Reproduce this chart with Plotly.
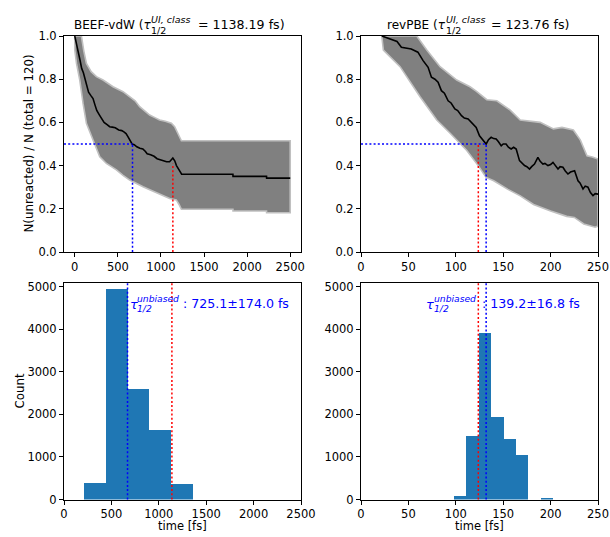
import plotly.graph_objects as go

W, H = 610, 537

# ---------------- data ----------------
# BEEF-vdW: fraction of unreacted molecules (black reference curve)
beef_t = [0, 20, 38, 60, 80, 100, 120, 140, 160, 185, 212, 235, 255, 285, 310, 340, 375, 405,
          435, 470, 510, 545, 570, 595, 615, 640, 665, 690, 720, 755, 790, 820, 840, 880, 920,
          955, 990, 1030, 1065, 1100, 1120, 1138, 1160, 1180, 1210, 1240, 1835, 1836, 2225,
          2226, 2500]
beef_frac = [1.0, 0.97, 0.93, 0.89, 0.85, 0.83, 0.80, 0.77, 0.74, 0.725, 0.71, 0.68, 0.655,
             0.635, 0.62, 0.60, 0.59, 0.58, 0.578, 0.575, 0.565, 0.562, 0.556, 0.548, 0.535,
             0.52, 0.50, 0.497, 0.487, 0.48, 0.477, 0.465, 0.455, 0.45, 0.443, 0.432, 0.428,
             0.42, 0.418, 0.418, 0.425, 0.435, 0.422, 0.40, 0.38, 0.36, 0.36, 0.35, 0.35,
             0.342, 0.342]
# envelope of the bootstrap curves (grey band)
beef_up_t = [0, 77, 105, 135, 190, 251, 328, 444, 560, 637, 700, 753, 810, 869, 930, 985,
             1050, 1121, 1159, 1190, 1217, 1237, 1840, 2230, 2500]
beef_up_frac = [1.0, 1.0, 0.93, 0.873, 0.835, 0.812, 0.796, 0.765, 0.742, 0.719, 0.70, 0.673,
                0.655, 0.634, 0.622, 0.611, 0.605, 0.596, 0.58, 0.556, 0.534, 0.515, 0.515,
                0.515, 0.515]
beef_lo_t = [0, 0, 20, 58, 96, 135, 175, 212, 250, 290, 367, 483, 560, 637, 720, 792, 870, 947,
             1030, 1101, 1178, 1210, 1237, 1835, 1836, 2225, 2226, 2500]
beef_lo_frac = [1.0, 0.935, 0.873, 0.796, 0.688, 0.596, 0.555, 0.519, 0.48, 0.441, 0.41, 0.38,
                0.355, 0.333, 0.318, 0.302, 0.288, 0.272, 0.26, 0.248, 0.241, 0.22, 0.198,
                0.198, 0.19, 0.19, 0.182, 0.182]
beef_tau_class = 1138.19
beef_tau_blue = 670
beef_red_top = 0.41

# revPBE
rev_t = [22, 32, 38, 42.6, 48, 53, 60, 65.5, 70.8, 74.3, 78, 81.3, 84.8, 88, 91.9, 95, 99, 102,
         106, 109, 113, 118.3, 121.5, 125, 128, 132, 134.5, 137.3, 140, 142.6, 145, 147.9, 150,
         153, 155.5, 158.4, 161, 163.7, 167.2, 170, 172.5, 175, 177.8, 180, 183, 186.6, 189,
         191.9, 194, 197.2, 200, 202.5, 205, 207.8, 210, 213, 215.5, 218.3, 221, 225.3, 228.9,
         231, 234.2, 236.5, 239.4, 242, 244.7, 247, 250]
rev_frac = [1.0, 0.985, 0.975, 0.948, 0.945, 0.94, 0.925, 0.886, 0.855, 0.809, 0.80, 0.786,
            0.747, 0.735, 0.70, 0.69, 0.662, 0.655, 0.631, 0.62, 0.616, 0.593, 0.577, 0.538,
            0.52, 0.50, 0.52, 0.531, 0.525, 0.523, 0.51, 0.492, 0.50, 0.50, 0.485, 0.477,
            0.485, 0.477, 0.423, 0.41, 0.40, 0.395, 0.384, 0.395, 0.407, 0.438, 0.42, 0.407,
            0.41, 0.40, 0.405, 0.415, 0.40, 0.384, 0.395, 0.392, 0.375, 0.361, 0.37, 0.376,
            0.33, 0.32, 0.292, 0.305, 0.30, 0.275, 0.261, 0.27, 0.268]
rev_up_t = [22, 58.8, 69.4, 83.4, 101, 115, 121.5, 132.7, 143.3, 157.4, 168, 189, 203, 212,
            224, 231.3, 238.4, 244, 250]
rev_up_frac = [1.0, 1.0, 0.935, 0.858, 0.796, 0.765, 0.745, 0.705, 0.70, 0.657, 0.611, 0.60,
               0.57, 0.577, 0.565, 0.519, 0.445, 0.44, 0.43]
rev_lo_t = [21.9, 23.6, 41.2, 62.3, 79.9, 94, 111.6, 123.6, 132, 140, 155, 168, 182, 191, 200,
            217, 225, 235, 247, 250]
rev_lo_frac = [1.0, 0.935, 0.858, 0.719, 0.611, 0.55, 0.47, 0.40, 0.345, 0.33, 0.29, 0.26,
               0.22, 0.205, 0.19, 0.165, 0.16, 0.13, 0.115, 0.12]
rev_tau_class = 123.76
rev_tau_blue = 132
rev_red_top = 0.5

# bootstrap histograms of tau_1/2
beef_hist_edges = [214, 443, 672, 900, 1128, 1356]
beef_hist_counts = [395, 4940, 2610, 1636, 365]
rev_hist_edges = [98.0, 111.1, 124.2, 137.3, 150.4, 163.5, 176.6, 189.7, 202.8]
rev_hist_counts = [85, 1505, 3925, 1950, 1425, 1050, 0, 20]

beef_title = ("BEEF-vdW (", "= 1138.19 fs)")
rev_title = ("revPBE (", "= 123.76 fs)")
beef_unbiased = ": 725.1±174.0 fs"
rev_unbiased = ": 139.2±16.8 fs"

top_xticks_beef = [0, 500, 1000, 1500, 2000, 2500]
top_xticks_rev = [0, 50, 100, 150, 200, 250]
frac_ticks = [0.0, 0.2, 0.4, 0.6, 0.8, 1.0]
count_ticks = [0, 1000, 2000, 3000, 4000, 5000]

# ---------------- figure ----------------
FONT = "DejaVu Sans"
GREY = "rgb(128,128,128)"
LIGHT = "rgb(192,192,192)"
BLUE = "#1f77b4"
DOT = "2px,2.2px"

def fx(px):
    return px / W

def fy(py):
    return 1 - py / H

fig = go.Figure()

def band(ut, uy, lt, ly, xa, ya):
    fig.add_trace(go.Scatter(
        x=list(ut) + list(lt)[::-1], y=list(uy) + list(ly)[::-1],
        fill="toself", fillcolor=GREY, mode="lines",
        line=dict(color=LIGHT, width=1.6), xaxis=xa, yaxis=ya, hoverinfo="skip"))

band(beef_up_t, beef_up_frac, beef_lo_t, beef_lo_frac, "x", "y")
band(rev_up_t, rev_up_frac, rev_lo_t, rev_lo_frac, "x2", "y2")

fig.add_trace(go.Scatter(x=beef_t, y=beef_frac, mode="lines",
                         line=dict(color="black", width=1.6), xaxis="x", yaxis="y"))
fig.add_trace(go.Scatter(x=rev_t, y=rev_frac, mode="lines",
                         line=dict(color="black", width=1.6), xaxis="x2", yaxis="y2"))

top_ranges = {"x": [-125, 2625], "x2": [0, 250]}

def guide_lines(xa, ya, tau_blue, tau_red, red_top):
    x_left = top_ranges[xa][0]
    fig.add_trace(go.Scatter(x=[x_left, tau_blue], y=[0.5, 0.5], mode="lines",
                             line=dict(color="blue", width=1.5, dash=DOT), xaxis=xa, yaxis=ya))
    fig.add_trace(go.Scatter(x=[tau_blue, tau_blue], y=[0, 0.5], mode="lines",
                             line=dict(color="blue", width=1.5, dash=DOT), xaxis=xa, yaxis=ya))
    fig.add_trace(go.Scatter(x=[tau_red, tau_red], y=[0, red_top], mode="lines",
                             line=dict(color="red", width=1.5, dash=DOT), xaxis=xa, yaxis=ya))

guide_lines("x", "y", beef_tau_blue, beef_tau_class, beef_red_top)
guide_lines("x2", "y2", rev_tau_blue, rev_tau_class, rev_red_top)

def hist(edges, counts, xa, ya):
    centers = [(edges[i] + edges[i + 1]) / 2 for i in range(len(counts))]
    widths = [edges[i + 1] - edges[i] for i in range(len(counts))]
    fig.add_trace(go.Bar(x=centers, y=counts, width=widths, marker=dict(color=BLUE, line=dict(width=0)),
                         xaxis=xa, yaxis=ya))

hist(beef_hist_edges, beef_hist_counts, "x3", "y3")
hist(rev_hist_edges, rev_hist_counts, "x4", "y4")

for xa, ya, tb, tr in [("x3", "y3", beef_tau_blue, beef_tau_class),
                       ("x4", "y4", rev_tau_blue, rev_tau_class)]:
    for xv, c in [(tr, "red"), (tb, "blue")]:
        fig.add_shape(type="line", xref=xa, yref=ya + " domain", x0=xv, x1=xv, y0=0, y1=1,
                      line=dict(color=c, width=1.5, dash=DOT))

# axes (pixel positions measured in the reference)
L_dom = [fx(64), fx(301)]
R_dom = [fx(361), fx(598)]
T_dom = [fy(252), fy(36)]
B_dom = [fy(499.5), fy(282.7)]

common = dict(showline=True, linecolor="black", linewidth=1, mirror=True, ticks="outside",
              ticklen=4, tickwidth=1, tickcolor="black", showgrid=False, zeroline=False,
              automargin=False, ticklabeloverflow="allow",
              tickfont=dict(family=FONT, size=11.5, color="black"))

lay = dict(
    xaxis=dict(domain=L_dom, anchor="y", range=top_ranges["x"], tickvals=top_xticks_beef, **common),
    yaxis=dict(domain=T_dom, anchor="x", range=[0, 1], tickvals=frac_ticks, tickformat=".1f", **common),
    xaxis2=dict(domain=R_dom, anchor="y2", range=top_ranges["x2"], tickvals=top_xticks_rev, **common),
    yaxis2=dict(domain=T_dom, anchor="x2", range=[0, 1], tickvals=frac_ticks, tickformat=".1f", **common),
    xaxis3=dict(domain=L_dom, anchor="y3", range=[0, 2500], tickvals=top_xticks_beef, **common),
    yaxis3=dict(domain=B_dom, anchor="x3", range=[0, 5090], tickvals=count_ticks, **common),
    xaxis4=dict(domain=R_dom, anchor="y4", range=[0, 250], tickvals=top_xticks_rev, **common),
    yaxis4=dict(domain=B_dom, anchor="x4", range=[0, 5090], tickvals=count_ticks, **common),
)

annotations = []

def ann(text, px, py, size, xanchor="center", color="black", angle=0):
    annotations.append(dict(text=text, x=fx(px), y=fy(py), xref="paper", yref="paper",
                            xanchor=xanchor, yanchor="middle", showarrow=False, textangle=angle,
                            font=dict(family=FONT, size=size, color=color),
                            borderpad=0, borderwidth=0))

# titles: "NAME (τ^{UI, class}_{1/2} = value fs)"
for (pre, post), tau_end, post_start in [(beef_title, 150.5, 197.5), (rev_title, 445.5, 491.0)]:
    ann(pre + "<i>τ</i>", tau_end, 24.5, 12.0, xanchor="right")
    ann("<i>UI, class</i>", tau_end + 0.5, 19.0, 9.5, xanchor="left")
    ann("1/2", tau_end + 0.5, 30.0, 9.5, xanchor="left")
    ann(post, post_start, 24.5, 12.6, xanchor="left")

# unbiased tau annotations in the histograms
for txt, tau_x, colon_x in [(beef_unbiased, 129.5, 183.0), (rev_unbiased, 426.0, 481.5)]:
    ann("<i>τ</i>", tau_x, 304.0, 13.0, xanchor="left", color="blue")
    ann("<i>unbiased</i>", tau_x + 7.5, 298.5, 9.2, xanchor="left", color="blue")
    ann("<i>1/2</i>", tau_x + 7.5, 308.5, 9.2, xanchor="left", color="blue")
    ann(txt, colon_x, 303.5, 12.6, xanchor="left", color="blue")

# axis labels
ann("N(unreacted) / N (total = 120)", 28.5, 144, 11.8, angle=-90)
ann("Count", 19.5, 391, 11.8, angle=-90)
ann("time [fs]", 182.5, 525.5, 11.5)
ann("time [fs]", 479.5, 525.5, 11.5)

fig.update_layout(
    width=W, height=H, margin=dict(l=0, r=0, t=0, b=0, pad=0, autoexpand=False),
    paper_bgcolor="white", plot_bgcolor="white", showlegend=False,
    barmode="overlay", bargap=0, annotations=annotations,
    font=dict(family=FONT, color="black"), **lay)

fig.write_html("out.html", config={"displayModeBar": False},
               post_script="document.body.style.margin='0px';"
                           "document.documentElement.style.overflow='hidden';")
